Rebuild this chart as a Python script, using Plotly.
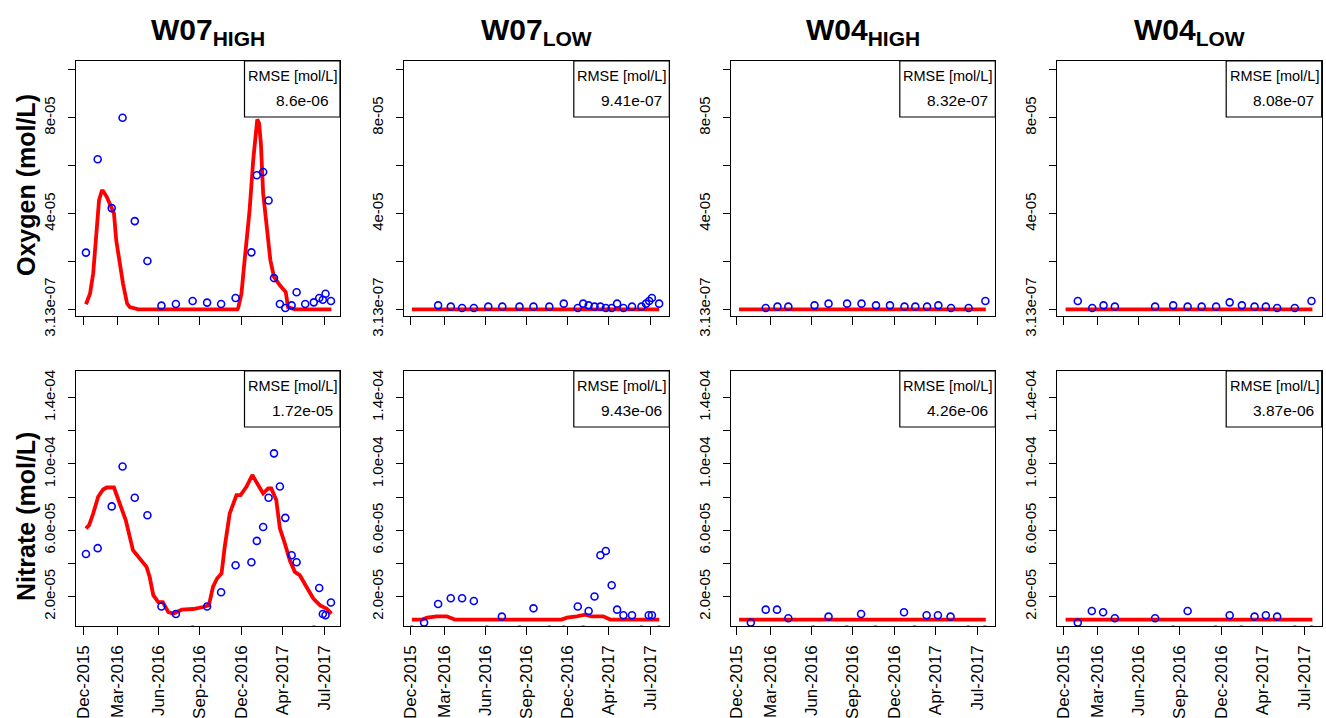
import plotly.graph_objects as go

# ---------------- data ----------------
panel_titles = ["W07", "W07", "W04", "W04"]
panel_subs = ["HIGH", "LOW", "HIGH", "LOW"]
rmse_oxygen = ["8.6e-06", "9.41e-07", "8.32e-07", "8.08e-07"]
rmse_nitrate = ["1.72e-05", "9.43e-06", "4.26e-06", "3.87e-06"]

x_tick_dates = ["2015-12-17", "2016-03-01", "2016-05-31", "2016-08-30",
                "2016-11-30", "2017-03-01", "2017-06-01"]
x_tick_labels = ["Dec-2015", "Mar-2016", "Jun-2016", "Sep-2016",
                 "Dec-2016", "Apr-2017", "Jul-2017"]

oxy_tick_vals = [3.13e-07, 4e-05, 8e-05]
oxy_tick_text = ["3.13e-07", "4e-05", "8e-05"]
oxy_minor_vals = [2e-05, 6e-05, 1e-04]
nit_tick_vals = [2e-05, 6e-05, 1e-04, 1.4e-04]
nit_tick_text = ["2.0e-05", "6.0e-05", "1.0e-04", "1.4e-04"]
nit_minor_vals = [4e-05, 8e-05, 1.2e-04]

# --- W07 HIGH ---
w07h_oxy_obs_dates = ["2015-12-22", "2016-01-17", "2016-02-17", "2016-03-12", "2016-04-08",
                      "2016-05-06", "2016-06-06", "2016-07-08", "2016-08-14", "2016-09-15",
                      "2016-10-16", "2016-11-17", "2016-12-22", "2017-01-03", "2017-01-17",
                      "2017-01-29", "2017-02-10", "2017-02-23", "2017-03-07", "2017-03-21",
                      "2017-04-01", "2017-04-20", "2017-05-09", "2017-05-21", "2017-05-29",
                      "2017-06-04", "2017-06-16"]
w07h_oxy_obs = [2.39e-05, 6.27e-05, 4.24e-05, 8.0e-05, 3.70e-05, 2.04e-05, 1.83e-06, 2.5e-06,
                3.75e-06, 3.1e-06, 2.5e-06, 5.0e-06, 2.40e-05, 5.61e-05, 5.74e-05, 4.56e-05,
                1.33e-05, 2.5e-06, 8.3e-07, 1.96e-06, 7.4e-06, 2.5e-06, 3.2e-06, 5.0e-06,
                4.3e-06, 6.8e-06, 3.75e-06]
w07h_oxy_mod_dates = ["2015-12-22", "2015-12-31", "2016-01-07", "2016-01-15", "2016-01-20",
                      "2016-01-26", "2016-01-29", "2016-02-06", "2016-02-17", "2016-02-22",
                      "2016-02-27", "2016-03-06", "2016-03-13", "2016-03-22", "2016-03-28",
                      "2016-04-16", "2016-11-21", "2016-11-23", "2016-11-30", "2016-12-07",
                      "2016-12-18", "2016-12-26", "2017-01-01", "2017-01-04", "2017-01-08",
                      "2017-01-12", "2017-01-17", "2017-01-25", "2017-02-02", "2017-02-10",
                      "2017-02-23", "2017-03-08", "2017-03-13", "2017-03-28", "2017-06-17"]
w07h_oxy_mod = [2.4e-06, 6.8e-06, 1.52e-05, 3.20e-05, 4.57e-05, 4.95e-05, 4.95e-05, 4.71e-05,
                4.29e-05, 4.02e-05, 2.90e-05, 1.79e-05, 1.10e-05, 2.7e-06, 1.2e-06, 3.13e-07,
                3.13e-07, 1.0e-06, 6.8e-06, 2.07e-05, 4.15e-05, 6.24e-05, 7.63e-05, 7.93e-05,
                7.77e-05, 6.93e-05, 4.85e-05, 3.46e-05, 2.07e-05, 1.38e-05, 1.03e-05, 7.5e-06,
                1.2e-06, 3.13e-07, 3.13e-07]
w07h_nit_obs_dates = ["2015-12-22", "2016-01-17", "2016-02-17", "2016-03-12", "2016-04-08",
                      "2016-05-06", "2016-06-06", "2016-07-08", "2016-08-14", "2016-09-15",
                      "2016-10-16", "2016-11-17", "2016-12-22", "2017-01-03", "2017-01-17",
                      "2017-01-29", "2017-02-10", "2017-02-23", "2017-03-07", "2017-03-21",
                      "2017-04-01", "2017-05-09", "2017-05-21", "2017-05-29", "2017-06-04",
                      "2017-06-16"]
w07h_nit_obs = [4.57e-05, 4.92e-05, 7.44e-05, 9.85e-05, 7.96e-05, 6.91e-05, 1.40e-05, 9.5e-06,
                0.0, 1.40e-05, 2.26e-05, 3.89e-05, 4.07e-05, 5.36e-05, 6.20e-05, 7.96e-05,
                1.064e-04, 8.64e-05, 6.75e-05, 4.49e-05, 4.07e-05, 0.0, 2.52e-05, 9.5e-06,
                8.7e-06, 1.64e-05]
w07h_nit_mod_dates = ["2015-12-22", "2015-12-29", "2016-01-07", "2016-01-18", "2016-01-29",
                      "2016-02-06", "2016-02-22", "2016-03-06", "2016-03-19", "2016-04-04",
                      "2016-04-19", "2016-05-04", "2016-05-11", "2016-05-19", "2016-05-30",
                      "2016-06-09", "2016-06-21", "2016-07-02", "2016-07-21", "2016-08-15",
                      "2016-09-06", "2016-09-19", "2016-09-28", "2016-10-07", "2016-10-17",
                      "2016-10-24", "2016-11-04", "2016-11-19", "2016-11-28", "2016-12-11",
                      "2016-12-24", "2017-01-02", "2017-01-17", "2017-01-28", "2017-02-04",
                      "2017-02-15", "2017-02-23", "2017-03-06", "2017-03-17", "2017-03-28",
                      "2017-04-08", "2017-04-23", "2017-05-08", "2017-05-23", "2017-06-06",
                      "2017-06-17"]
w07h_nit_mod = [6.11e-05, 6.31e-05, 7.01e-05, 8.02e-05, 8.46e-05, 8.58e-05, 8.58e-05, 7.62e-05,
                6.61e-05, 4.80e-05, 4.30e-05, 3.79e-05, 3.18e-05, 2.08e-05, 1.67e-05, 1.67e-05,
                1.07e-05, 9.7e-06, 1.21e-05, 1.25e-05, 1.37e-05, 1.47e-05, 2.58e-05, 3.09e-05,
                3.39e-05, 5.0e-05, 7.01e-05, 8.12e-05, 8.12e-05, 8.62e-05, 9.33e-05, 8.92e-05,
                8.22e-05, 8.52e-05, 8.52e-05, 7.82e-05, 6.11e-05, 5.20e-05, 4.19e-05, 3.49e-05,
                3.29e-05, 2.58e-05, 1.88e-05, 1.47e-05, 1.28e-05, 9.7e-06]

# --- W07 LOW ---
w07l_oxy_obs_dates = ["2016-02-17", "2016-03-16", "2016-04-10", "2016-05-06", "2016-06-07",
                      "2016-07-08", "2016-08-15", "2016-09-15", "2016-10-20", "2016-11-21",
                      "2016-12-22", "2017-01-03", "2017-01-15", "2017-01-28", "2017-02-10",
                      "2017-02-22", "2017-03-07", "2017-03-19", "2017-04-02", "2017-04-21",
                      "2017-05-12", "2017-05-22", "2017-05-29", "2017-06-04", "2017-06-20"]
w07l_oxy_obs = [1.96e-06, 1.42e-06, 8.3e-07, 8.3e-07, 1.42e-06, 1.42e-06, 1.42e-06, 1.42e-06,
                1.42e-06, 2.67e-06, 8.3e-07, 2.67e-06, 1.96e-06, 1.42e-06, 1.42e-06, 8.3e-07,
                8.3e-07, 2.67e-06, 8.3e-07, 1.42e-06, 1.42e-06, 2.67e-06, 3.75e-06, 5.0e-06,
                2.67e-06]
w07l_oxy_mod_dates = ["2015-12-21", "2017-06-20"]
w07l_oxy_mod = [3.13e-07, 3.13e-07]
w07l_nit_obs_dates = ["2015-12-21", "2016-01-17", "2016-02-17", "2016-03-16", "2016-04-10",
                      "2016-05-06", "2016-06-04", "2016-07-07", "2016-08-15", "2016-09-15",
                      "2016-10-20", "2016-11-21", "2016-12-22", "2017-01-03", "2017-01-15",
                      "2017-01-28", "2017-02-10", "2017-02-22", "2017-03-07", "2017-03-19",
                      "2017-04-02", "2017-04-21", "2017-05-12", "2017-05-28", "2017-06-04",
                      "2017-06-20"]
w07l_nit_obs = [0.0, 4.3e-06, 1.55e-05, 1.90e-05, 1.90e-05, 1.73e-05, 0.0, 7.9e-06, 0.0,
                1.29e-05, 0.0, 0.0, 1.40e-05, 0.0, 1.13e-05, 2.0e-05, 4.49e-05, 4.75e-05,
                2.68e-05, 1.21e-05, 8.7e-06, 8.7e-06, 0.0, 8.7e-06, 8.7e-06, 0.0]
w07l_nit_mod_dates = ["2015-12-21", "2016-01-12", "2016-01-24", "2016-02-14", "2016-03-07",
                      "2016-03-25", "2016-11-16", "2016-11-28", "2016-12-20", "2017-01-07",
                      "2017-01-21", "2017-02-16", "2017-03-04", "2017-06-20"]
w07l_nit_mod = [6.1e-06, 6.1e-06, 7.3e-06, 8.1e-06, 8.1e-06, 6.1e-06, 6.1e-06, 7.3e-06,
                8.1e-06, 9.1e-06, 8.1e-06, 8.1e-06, 6.1e-06, 6.1e-06]

# --- W04 HIGH ---
w04h_oxy_obs_dates = ["2016-02-19", "2016-03-16", "2016-04-09", "2016-06-06", "2016-07-07",
                      "2016-08-17", "2016-09-18", "2016-10-20", "2016-11-20", "2016-12-22",
                      "2017-01-15", "2017-02-10", "2017-03-07", "2017-04-04", "2017-05-13",
                      "2017-06-19"]
w04h_oxy_obs = [8.3e-07, 1.42e-06, 1.42e-06, 1.96e-06, 2.67e-06, 2.67e-06, 2.67e-06, 1.96e-06,
                1.96e-06, 1.42e-06, 1.42e-06, 1.42e-06, 1.96e-06, 8.3e-07, 8.3e-07, 3.75e-06]
w04h_oxy_mod_dates = ["2015-12-22", "2017-06-20"]
w04h_oxy_mod = [3.13e-07, 3.13e-07]
w04h_nit_obs_dates = ["2016-01-17", "2016-02-19", "2016-03-15", "2016-04-09", "2016-06-03",
                      "2016-07-07", "2016-08-16", "2016-09-17", "2016-10-19", "2016-12-21",
                      "2017-01-13", "2017-02-09", "2017-03-06", "2017-04-03", "2017-05-12",
                      "2017-06-18"]
w04h_nit_obs = [4.3e-06, 1.21e-05, 1.21e-05, 6.9e-06, 0.0, 7.9e-06, 0.0, 9.5e-06, 0.0,
                1.05e-05, 0.0, 8.7e-06, 8.7e-06, 7.9e-06, 0.0, 0.0]
w04h_nit_mod_dates = ["2015-12-22", "2017-06-20"]
w04h_nit_mod = [6.1e-06, 6.1e-06]

# --- W04 LOW ---
w04l_oxy_obs_dates = ["2016-01-17", "2016-02-18", "2016-03-14", "2016-04-08", "2016-07-06",
                      "2016-08-15", "2016-09-16", "2016-10-17", "2016-11-18", "2016-12-18",
                      "2017-01-14", "2017-02-11", "2017-03-08", "2017-04-02", "2017-05-11",
                      "2017-06-17"]
w04l_oxy_obs = [3.75e-06, 8.3e-07, 1.96e-06, 1.42e-06, 1.42e-06, 1.96e-06, 1.42e-06, 1.42e-06,
                1.42e-06, 3.2e-06, 1.96e-06, 1.42e-06, 1.42e-06, 8.3e-07, 8.3e-07, 3.75e-06]
w04l_oxy_mod_dates = ["2015-12-21", "2017-06-19"]
w04l_oxy_mod = [3.13e-07, 3.13e-07]
w04l_nit_obs_dates = ["2016-01-17", "2016-02-17", "2016-03-13", "2016-04-08", "2016-07-06",
                      "2016-08-15", "2016-09-16", "2016-11-17", "2016-12-18", "2017-01-13",
                      "2017-02-11", "2017-03-08", "2017-04-02", "2017-05-11", "2017-06-17"]
w04l_nit_obs = [4.3e-06, 1.13e-05, 1.05e-05, 6.9e-06, 6.9e-06, 0.0, 1.13e-05, 0.0, 8.7e-06,
                0.0, 7.9e-06, 8.7e-06, 7.9e-06, 0.0, 0.0]
w04l_nit_mod_dates = ["2015-12-21", "2017-06-19"]
w04l_nit_mod = [6.1e-06, 6.1e-06]

# ---------------- layout helpers ----------------
W, H = 1326, 718
FONT = "Liberation Sans, Arial, sans-serif"
col_px = [(76, 340), (404, 669.3), (730.7, 995.3), (1056.7, 1321.7)]
row_px = [(61, 316.3), (371, 626.3)]
x_ranges = [["2015-11-30", "2017-07-06"], ["2015-12-03 12:00", "2017-07-12 12:00"],
            ["2015-12-03 12:00", "2017-07-11"], ["2015-12-01 08:00", "2017-07-09 14:00"]]
oxy_range = [-2.6e-06, 1.036e-04]
nit_range = [2.06e-06, 1.561e-04]


def px_x(p):
    return p / W


def px_y(p):
    return 1 - p / H


panels = [
    [(w07h_oxy_obs_dates, w07h_oxy_obs, w07h_oxy_mod_dates, w07h_oxy_mod),
     (w07l_oxy_obs_dates, w07l_oxy_obs, w07l_oxy_mod_dates, w07l_oxy_mod),
     (w04h_oxy_obs_dates, w04h_oxy_obs, w04h_oxy_mod_dates, w04h_oxy_mod),
     (w04l_oxy_obs_dates, w04l_oxy_obs, w04l_oxy_mod_dates, w04l_oxy_mod)],
    [(w07h_nit_obs_dates, w07h_nit_obs, w07h_nit_mod_dates, w07h_nit_mod),
     (w07l_nit_obs_dates, w07l_nit_obs, w07l_nit_mod_dates, w07l_nit_mod),
     (w04h_nit_obs_dates, w04h_nit_obs, w04h_nit_mod_dates, w04h_nit_mod),
     (w04l_nit_obs_dates, w04l_nit_obs, w04l_nit_mod_dates, w04l_nit_mod)],
]
rmse = [rmse_oxygen, rmse_nitrate]

fig = go.Figure()
layout = {}
annotations = []
shapes = []

idx = 0
for r in range(2):
    for c in range(4):
        idx += 1
        xa = "x" if idx == 1 else f"x{idx}"
        ya = "y" if idx == 1 else f"y{idx}"
        obs_d, obs_v, mod_d, mod_v = panels[r][c]
        fig.add_trace(go.Scatter(
            x=mod_d, y=mod_v, mode="lines", xaxis=xa, yaxis=ya,
            line=dict(color="#FF0000", width=3.8), showlegend=False, hoverinfo="skip"))
        fig.add_trace(go.Scatter(
            x=obs_d, y=obs_v, mode="markers", xaxis=xa, yaxis=ya,
            marker=dict(symbol="circle-open", size=7, color="#0000FF",
                        line=dict(color="#0000FF", width=1.6)),
            showlegend=False))

        x0, x1 = col_px[c]
        y0, y1 = row_px[r]
        xdict = dict(
            domain=[px_x(x0), px_x(x1)], anchor=ya, type="date",
            range=x_ranges[c], automargin=False,
            tickmode="array", tickvals=x_tick_dates,
            showticklabels=(r == 1),
            tickangle=-90, ticks="outside", ticklen=8, tickwidth=1, tickcolor="black",
            ticklabelstandoff=3,
            tickfont=dict(family=FONT, size=17, color="black"),
            showline=True, mirror=True, linecolor="black", linewidth=1.2,
            showgrid=False, zeroline=False, fixedrange=True)
        if r == 1:
            xdict["ticktext"] = x_tick_labels
        layout["xaxis" + ("" if idx == 1 else str(idx))] = xdict
        layout["yaxis" + ("" if idx == 1 else str(idx))] = dict(
            domain=[px_y(y1), px_y(y0)], anchor=xa, automargin=False,
            range=oxy_range if r == 0 else nit_range,
            tickmode="array",
            tickvals=oxy_tick_vals if r == 0 else nit_tick_vals,
            ticktext=oxy_tick_text if r == 0 else nit_tick_text,
            minor=dict(tickmode="array",
                       tickvals=oxy_minor_vals if r == 0 else nit_minor_vals,
                       ticks="outside", ticklen=7, tickwidth=1, tickcolor="black",
                       showgrid=False),
            tickangle=-90, ticks="outside", ticklen=7, tickwidth=1, tickcolor="black",
            ticklabelstandoff=7,
            tickfont=dict(family=FONT, size=15, color="black"),
            showline=True, mirror=True, linecolor="black", linewidth=1.2,
            showgrid=False, zeroline=False, fixedrange=True)

        bx0 = x1 - 95.5
        by1 = y0 + 56
        shapes.append(dict(type="rect", xref="paper", yref="paper",
                           x0=px_x(bx0), x1=px_x(x1), y0=px_y(by1), y1=px_y(y0),
                           line=dict(color="black", width=1.2), fillcolor="white"))
        annotations.append(dict(xref="paper", yref="paper", x=px_x(bx0 + 48), y=px_y(y0 + 15),
                                text="RMSE [mol/L]", showarrow=False, xanchor="center",
                                yanchor="middle",
                                font=dict(family=FONT, size=14.5, color="black")))
        annotations.append(dict(xref="paper", yref="paper", x=px_x(bx0 + 57.5), y=px_y(y0 + 39.5),
                                text=rmse[r][c], showarrow=False, xanchor="center",
                                yanchor="middle",
                                font=dict(family=FONT, size=15.5, color="black")))

for c in range(4):
    x0, x1 = col_px[c]
    annotations.append(dict(xref="paper", yref="paper", x=px_x((x0 + x1) / 2), y=px_y(31),
                            text=f"<b>{panel_titles[c]}<sub>{panel_subs[c]}</sub></b>",
                            showarrow=False, xanchor="center", yanchor="middle",
                            font=dict(family=FONT, size=30, color="black")))

annotations.append(dict(xref="paper", yref="paper", x=px_x(26), y=px_y(185),
                        text="<b>Oxygen (mol/L)</b>", textangle=-90, showarrow=False,
                        xanchor="center", yanchor="middle",
                        font=dict(family=FONT, size=25, color="black")))
annotations.append(dict(xref="paper", yref="paper", x=px_x(26), y=px_y(517),
                        text="<b>Nitrate (mol/L)</b>", textangle=-90, showarrow=False,
                        xanchor="center", yanchor="middle",
                        font=dict(family=FONT, size=25, color="black")))

fig.update_layout(
    width=W, height=H,
    margin=dict(l=0, r=0, t=0, b=0),
    paper_bgcolor="white", plot_bgcolor="white",
    showlegend=False,
    annotations=annotations, shapes=shapes,
    **layout)

fig.write_html("out.html",
               config={"displayModeBar": False},
               post_script="document.body.style.margin='0';document.body.style.overflow='hidden';")
